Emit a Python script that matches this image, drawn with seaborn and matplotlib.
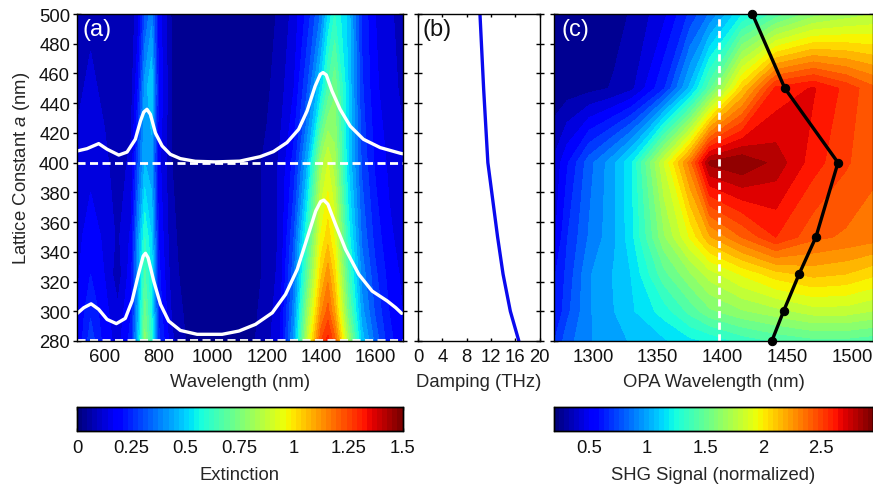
import numpy as np
import pandas as pd
import matplotlib
matplotlib.use("Agg")
import matplotlib.pyplot as plt
import seaborn as sns

sns.set_theme(style="ticks")
plt.rcParams['font.family'] = ['Liberation Sans', 'DejaVu Sans']
plt.rcParams['mathtext.fontset'] = 'custom'
plt.rcParams['mathtext.rm'] = 'Liberation Sans'
plt.rcParams['mathtext.it'] = 'Liberation Sans:italic'
plt.rcParams['axes.linewidth'] = 1.0
FS = 13.3

# panel a: extinction map
ext_wl = [500, 550, 600, 650, 700, 725, 750, 775, 800, 850, 900, 1000, 1100, 1200, 1250, 1300, 1350, 1400, 1425, 1450, 1500, 1550, 1600, 1650, 1700]
ext_lat = [280, 300, 325, 350, 400, 450, 500]
ext_280 = [.15, .28, .18, .13, .22, .47, .77, .60, .27, .11, .05, .01, .01, .08, .15, .42, .88, 1.25, 1.32, 1.22, .82, .48, .33, .22, .16]
ext_300 = [.15, .24, .17, .11, .20, .44, .72, .56, .24, .09, .04, .01, .01, .07, .14, .38, .80, 1.14, 1.22, 1.10, .72, .42, .29, .20, .15]
ext_325 = [.14, .20, .15, .07, .18, .42, .66, .54, .22, .07, .03, .01, .01, .06, .12, .34, .70, 1.04, 1.13, 1.02, .65, .38, .26, .18, .14]
ext_350 = [.13, .18, .14, .09, .16, .40, .60, .50, .20, .06, .03, .01, .01, .06, .11, .30, .62, .96, 1.03, .94, .58, .34, .23, .16, .13]
ext_400 = [.11, .13, .11, .08, .11, .30, .45, .42, .17, .05, .02, .01, .01, .06, .11, .22, .45, .82, .90, .82, .50, .29, .19, .14, .11]
ext_450 = [.09, .11, .09, .06, .08, .20, .42, .50, .20, .05, .02, .01, .01, .04, .08, .15, .30, .52, .66, .74, .50, .26, .16, .12, .09]
ext_500 = [.08, .09, .07, .05, .07, .13, .30, .38, .18, .04, .01, .01, .01, .03, .06, .12, .22, .36, .50, .60, .48, .24, .15, .11, .08]

# white spectra on top of panel a
upper_wl = [500, 537, 580, 611, 654, 684.5, 715, 734, 746, 758, 770.6, 789, 814, 844, 881, 936, 1010, 1100, 1175, 1224, 1274, 1317, 1348, 1378, 1397, 1407, 1419, 1440, 1470, 1507, 1556, 1618, 1692, 1700]
upper_lat = [407.8, 409.4, 412.8, 409, 405.1, 407.1, 415.7, 428, 434, 435.9, 432.5, 420, 411.2, 405.6, 402.7, 400.9, 400.5, 401, 404, 407.4, 413.5, 422.4, 434.7, 451.5, 459.4, 460.6, 459, 448.2, 435.9, 424.6, 415.7, 410.1, 406.3, 406]
lower_wl = [500, 525, 552, 580, 611, 645, 678, 703, 728, 744, 752.3, 762, 783, 808, 838, 881, 943, 1035, 1097, 1158, 1220, 1269, 1312, 1349, 1380, 1398, 1410, 1425, 1453, 1490, 1539, 1588, 1644, 1675, 1697]
lower_lat = [298.4, 302.4, 305, 301.3, 294.5, 291.7, 295.2, 307, 326, 337.1, 339, 336, 320.3, 304.6, 293.4, 287.1, 284.5, 284.5, 286.7, 291.2, 299, 311.4, 328.2, 349.5, 367.4, 373.8, 374.8, 372, 358.5, 341.7, 324.8, 313.6, 306.9, 302.4, 298.6]

# panel b: damping
damp_thz = [16.6, 15.2, 14.0, 13.1, 11.5, 10.8, 10.2]
damp_lat = [280, 300, 325, 350, 400, 450, 500]

# panel c: SHG map
shg_wl = [1270, 1280, 1297, 1316, 1330, 1355, 1375, 1390, 1415, 1441, 1470, 1495, 1516]
shg_lat = [280, 300, 325, 350, 400, 450, 500]
shg_280 = [.65, .80, .92, 1.00, 1.03, 1.10, 1.18, 1.22, 1.33, 1.40, 1.45, 1.45, 1.42]
shg_300 = [.55, .72, .92, 1.02, 1.10, 1.25, 1.42, 1.55, 1.65, 1.72, 1.80, 1.80, 1.75]
shg_325 = [.55, .68, .92, 1.03, 1.12, 1.45, 1.65, 1.80, 1.95, 2.08, 2.15, 2.12, 2.05]
shg_350 = [.45, .65, .85, 1.00, 1.18, 1.65, 1.95, 2.20, 2.40, 2.58, 2.42, 2.38, 2.35]
shg_400 = [.40, .55, .80, 1.00, 1.20, 1.85, 2.35, 2.88, 2.94, 2.82, 2.62, 2.50, 2.42]
shg_450 = [.22, .24, .26, .30, .36, .65, 1.05, 1.45, 2.10, 2.60, 2.68, 2.55, 2.42]
shg_500 = [.22, .22, .23, .26, .30, .45, .68, .85, 1.20, 1.42, 1.62, 1.70, 1.75]

peak_wl = [1438, 1447, 1459, 1472, 1489, 1448, 1423]
peak_lat = [280, 300, 325, 350, 400, 450, 500]

lat_ticks = list(range(280, 501, 20))
W, H = 873, 485
jet = plt.get_cmap('jet', 64)


def box(x0, x1, y0=15, y1=342):
    return [x0 / W, (H - y1) / H, (x1 - x0) / W, (y1 - y0) / H]


def style(ax):
    ax.tick_params(axis='x', direction='in', length=2.5, width=1, top=True, bottom=True, labelsize=FS, pad=5, color='black', labelcolor='#111111')
    ax.tick_params(axis='y', direction='inout', length=6, width=1, left=True, right=True, labelsize=FS, pad=2, color='black', labelcolor='#111111')
    ax.set_ylim(280, 500)
    ax.set_yticks(lat_ticks)
    for s in ax.spines.values():
        s.set_visible(True)
        s.set_color('black')


fig = plt.figure(figsize=(8.73, 4.85), dpi=100)
ax_a = fig.add_axes(box(77, 402.5))
ax_b = fig.add_axes(box(418, 539.5))
ax_c = fig.add_axes(box(554, 873))

# (a)
ext_z = np.array([ext_280, ext_300, ext_325, ext_350, ext_400, ext_450, ext_500])
ext_levels = np.linspace(0, 1.5, 31)
ax_a.contourf(ext_wl, ext_lat, ext_z, levels=ext_levels, cmap='jet', vmin=0, vmax=1.5)
sns.lineplot(x=upper_wl, y=upper_lat, sort=False, estimator=None, color='white', lw=2.4, ax=ax_a)
sns.lineplot(x=lower_wl, y=lower_lat, sort=False, estimator=None, color='white', lw=2.4, ax=ax_a)
ax_a.axhline(400, color='white', lw=2, dashes=(2.9, 1.6))
ax_a.axhline(281, color='white', lw=2, dashes=(2.9, 1.6))
style(ax_a)
ax_a.set_xlim(500, 1700)
ax_a.set_xticks([600, 800, 1000, 1200, 1400, 1600])
ax_a.set_xlabel('Wavelength (nm)', fontsize=FS, labelpad=5.5)
ax_a.set_ylabel('Lattice Constant $a$ (nm)', fontsize=FS)
ax_a.yaxis.set_label_coords(-0.137, 0.532)
ax_a.text(0.017, 0.955, '(a)', color='white', fontsize=17, transform=ax_a.transAxes, va='center')

# (b)
sns.lineplot(x=damp_thz, y=damp_lat, sort=False, estimator=None, color='#0a0aee', lw=2.4, ax=ax_b)
style(ax_b)
ax_b.set_xlim(0, 20)
ax_b.set_xticks([0, 4, 8, 12, 16, 20])
ax_b.set_yticklabels([])
ax_b.set_xlabel('Damping (THz)', fontsize=FS, labelpad=5.5)
ax_b.text(0.04, 0.955, '(b)', color='#111111', fontsize=17, transform=ax_b.transAxes, va='center')

# (c)
shg_z = np.array([shg_280, shg_300, shg_325, shg_350, shg_400, shg_450, shg_500])
shg_levels = np.linspace(0.2, 2.944, 31)
ax_c.contourf(shg_wl, shg_lat, shg_z, levels=shg_levels, cmap='jet', vmin=0.2, vmax=2.944)
ax_c.axvline(1397, color='white', lw=2, dashes=(2.6, 1.6))
sns.lineplot(x=peak_wl, y=peak_lat, sort=False, estimator=None, color='black', lw=2.4, marker='o', ms=6, mec='black', clip_on=False, ax=ax_c)
style(ax_c)
ax_c.set_xlim(1270, 1516)
ax_c.set_xticks([1300, 1350, 1400, 1450, 1500])
ax_c.set_yticklabels([])
ax_c.set_xlabel('OPA Wavelength (nm)', fontsize=FS, labelpad=5.5)
ax_c.text(0.025, 0.955, '(c)', color='white', fontsize=17, transform=ax_c.transAxes, va='center')

# colorbars
cax_a = fig.add_axes(box(77, 402.5, 408, 432))
sm_a = plt.cm.ScalarMappable(norm=plt.Normalize(0, 1.5), cmap=jet)
cb_a = fig.colorbar(sm_a, cax=cax_a, orientation='horizontal')
cb_a.set_ticks([0, .25, .5, .75, 1, 1.25, 1.5])
cb_a.set_ticklabels(['0', '0.25', '0.5', '0.75', '1', '1.25', '1.5'])
cb_a.set_label('Extinction', fontsize=FS, labelpad=7)

cax_c = fig.add_axes(box(554, 873, 408, 432))
sm_c = plt.cm.ScalarMappable(norm=plt.Normalize(0.2, 2.944), cmap=jet)
cb_c = fig.colorbar(sm_c, cax=cax_c, orientation='horizontal')
cb_c.set_ticks([.5, 1, 1.5, 2, 2.5])
cb_c.set_ticklabels(['0.5', '1', '1.5', '2', '2.5'])
cb_c.set_label('SHG Signal (normalized)', fontsize=FS, labelpad=7)

for cax in [cax_a, cax_c]:
    cax.tick_params(axis='x', direction='in', length=2.5, width=1, top=True, bottom=True, labelsize=FS, pad=6, color='black', labelcolor='#111111')
    for s in cax.spines.values():
        s.set_visible(True)
        s.set_color('black')

fig.savefig('out.png', dpi=100)
